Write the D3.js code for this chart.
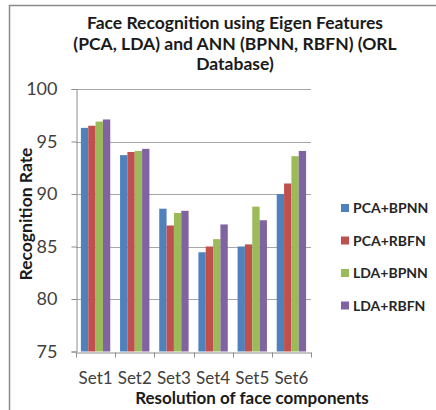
<!DOCTYPE html>
<html>
<head>
<meta charset="utf-8">
<script src="https://cdn.jsdelivr.net/npm/d3@7"></script>
<style>
  body { margin: 0; background: #fff; }
  text { font-family: Lato, "Open Sans", sans-serif; }
</style>
</head>
<body>
<script>
// data
const sets = ["Set1", "Set2", "Set3", "Set4", "Set5", "Set6"]
const series = ["PCA+BPNN", "PCA+RBFN", "LDA+BPNN", "LDA+RBFN"]
const pcaBpnn = [96.3, 93.7, 88.6, 84.45, 85.0, 90.0]
const pcaRbfn = [96.5, 94.0, 87.0, 85.0, 85.2, 91.0]
const ldaBpnn = [96.9, 94.1, 88.2, 85.7, 88.8, 93.6]
const ldaRbfn = [97.1, 94.3, 88.4, 87.1, 87.5, 94.1]
const yTicks = [75, 80, 85, 90, 95, 100]
const colors = ["#4F81BD", "#C0504D", "#9BBB59", "#8064A2"]

const values = [pcaBpnn, pcaRbfn, ldaBpnn, ldaRbfn]
const rows = sets.map((s, i) => ({ set: s, vals: series.map((k, j) => ({ key: k, v: values[j][i] })) }))

const svg = d3.select("body")
              .append("svg")
              .attr("width", 436)
              .attr("height", 410)

// outer frame
svg.append("rect")
   .attr("x", 9.5).attr("y", 5.5)
   .attr("width", 440).attr("height", 420)
   .attr("fill", "none")
   .attr("stroke", "#8a8a8a")
   .attr("stroke-width", 1.5)

const x = d3.scaleBand()
            .domain(sets)
            .range([76, 311])
            .paddingInner(0.25)
            .paddingOuter(0.125)

const xs = d3.scaleBand()
             .domain(series)
             .range([0, x.bandwidth()])

const y = d3.scaleLinear()
            .domain([75, 100])
            .range([351.5, 89])

// gridlines
svg.append("g")
   .selectAll("line")
   .data(yTicks.slice(1))
   .enter()
   .append("line")
   .attr("x1", 76).attr("x2", 311)
   .attr("y1", d => Math.round(y(d)) + 0.5)
   .attr("y2", d => Math.round(y(d)) + 0.5)
   .attr("stroke", "#a6a6a6")

// bars
const groups = svg.append("g")
   .selectAll("g")
   .data(rows)
   .enter()
   .append("g")
   .attr("transform", d => "translate(" + x(d.set) + ",0)")

groups.selectAll("rect")
      .data(d => d.vals)
      .enter()
      .append("rect")
      .attr("x", d => xs(d.key))
      .attr("width", xs.bandwidth())
      .attr("y", d => y(d.v))
      .attr("height", d => y(75) - y(d.v))
      .attr("fill", (d, i) => colors[i])

// axes
const yAxis = svg.append("g")
   .attr("transform", "translate(76.5,0)")
   .call(d3.axisLeft(y).tickValues(yTicks).tickSize(5).tickPadding(14))
yAxis.select(".domain").attr("stroke", "#8c8c8c")
yAxis.selectAll(".tick line").attr("stroke", "#8c8c8c")
yAxis.selectAll(".tick text").attr("font-size", "18px").attr("fill", "#404040")

const xAxis = svg.append("g")
   .attr("transform", "translate(0," + (Math.round(y(75)) + 0.5) + ")")
   .call(d3.axisBottom(x).tickSize(0).tickPadding(19))
xAxis.select(".domain").attr("stroke", "#8c8c8c")
xAxis.selectAll(".tick text").attr("font-size", "17px").attr("fill", "#404040")

// category boundary ticks
xAxis.selectAll(".sep")
     .data(d3.range(sets.length + 1))
     .enter()
     .append("line")
     .attr("x1", i => Math.round(76 + i * x.step()) + 0.5)
     .attr("x2", i => Math.round(76 + i * x.step()) + 0.5)
     .attr("y1", 0).attr("y2", 5)
     .attr("stroke", "#8c8c8c")

// title
const title = ["Face Recognition using  Eigen Features", "(PCA, LDA) and ANN (BPNN, RBFN) (ORL", "Database)"]
svg.append("text")
   .attr("text-anchor", "middle")
   .attr("font-size", "17.5px")
   .attr("font-weight", "bold")
   .attr("fill", "#1a1a1a")
   .selectAll("tspan")
   .data(title)
   .enter()
   .append("tspan")
   .attr("x", 235)
   .attr("y", (d, i) => 29 + i * 20.7)
   .text(d => d)

// axis titles
svg.append("text")
   .attr("x", 252).attr("y", 404)
   .attr("text-anchor", "middle")
   .attr("font-size", "17px")
   .attr("font-weight", "bold")
   .attr("fill", "#1a1a1a")
   .text("Resolution of face components")

svg.append("text")
   .attr("transform", "translate(32,214) rotate(-90)")
   .attr("text-anchor", "middle")
   .attr("font-size", "17.5px")
   .attr("font-weight", "bold")
   .attr("fill", "#1a1a1a")
   .text("Recognition Rate")

// legend
const legend = svg.append("g")
   .selectAll("g")
   .data(series)
   .enter()
   .append("g")
   .attr("transform", (d, i) => "translate(341," + (208 + i * 32.5) + ")")

legend.append("rect")
      .attr("x", 0).attr("y", -4)
      .attr("width", 8).attr("height", 8)
      .attr("fill", (d, i) => colors[i])

legend.append("text")
      .attr("x", 12).attr("y", 5)
      .attr("font-size", "14px")
      .attr("font-weight", "bold")
      .attr("fill", "#262626")
      .text(d => d)
</script>
</body>
</html>
